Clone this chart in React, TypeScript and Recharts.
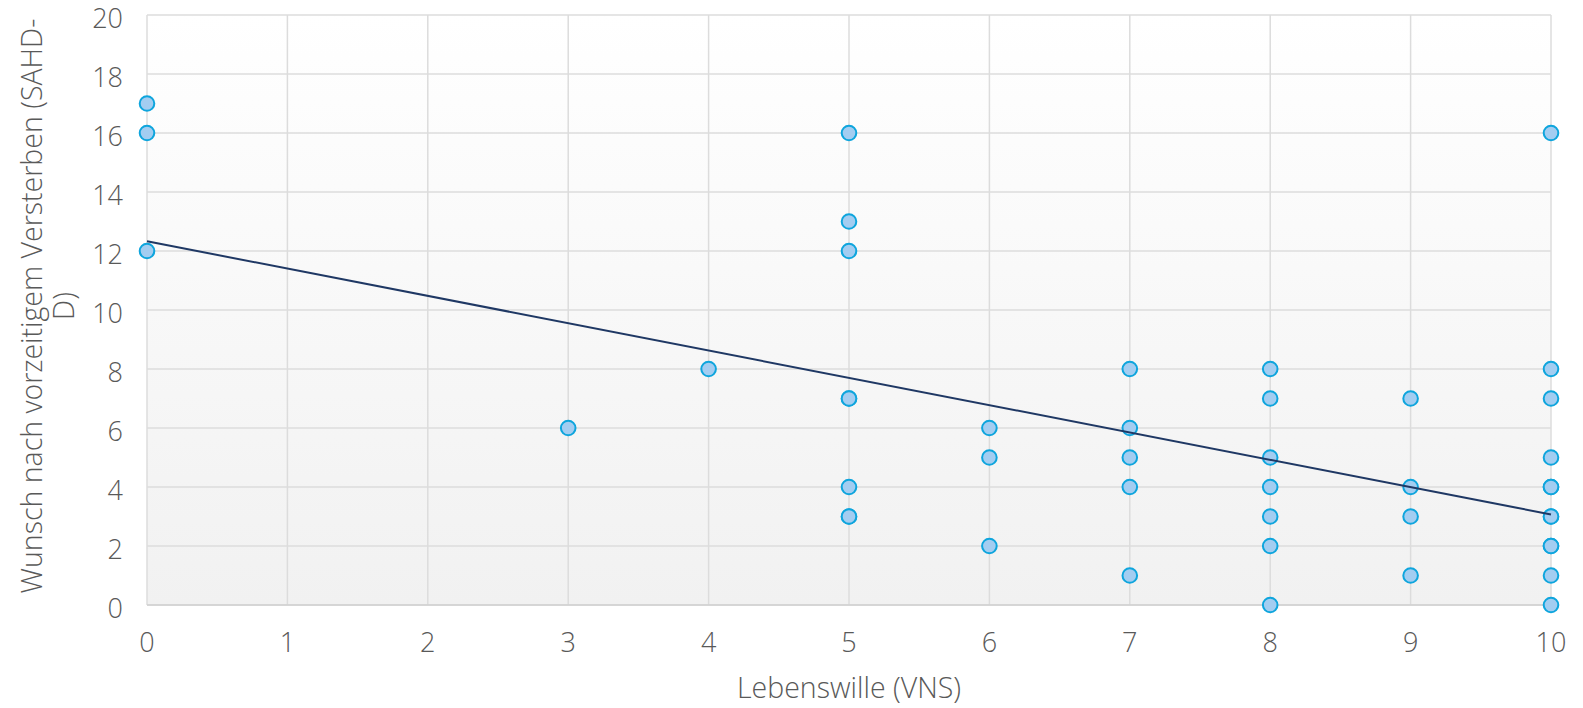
import React from 'react';
import {
  ScatterChart,
  Scatter,
  XAxis,
  YAxis,
  CartesianGrid,
} from 'recharts';

// Lebenswille (VNS) vs. Wunsch nach vorzeitigem Versterben (SAHD-D)
const vnsValues = [
  0, 0, 0,
  3,
  4,
  5, 5, 5, 5, 5, 5, 5, 5,
  6, 6, 6,
  7, 7, 7, 7, 7,
  8, 8, 8, 8, 8, 8, 8,
  9, 9, 9, 9,
  10, 10, 10, 10, 10, 10, 10, 10, 10, 10, 10, 10,
];
const sahdValues = [
  17, 16, 12,
  6,
  8,
  16, 13, 12, 7, 7, 4, 3, 3,
  6, 5, 2,
  8, 6, 5, 4, 1,
  8, 7, 5, 4, 3, 2, 0,
  7, 4, 3, 1,
  16, 8, 7, 5, 4, 4, 3, 3, 2, 2, 1, 0,
];

const trendX = [0, 10];
const trendY = [12.33, 3.07];

const xTicks = [0, 1, 2, 3, 4, 5, 6, 7, 8, 9, 10];
const yTicks = [0, 2, 4, 6, 8, 10, 12, 14, 16, 18, 20];

const xTitle = 'Lebenswille (VNS)';
const yTitleLines = ['Wunsch nach vorzeitigem Versterben (SAHD-', 'D)'];

const FONT = '"Open Sans", sans-serif';
const TEXT = '#595959';

const points = vnsValues.map((x, i) => ({ x, y: sahdValues[i] }));
const trend = trendX.map((x, i) => ({ x, y: trendY[i] }));

const Dot = (props: any) => {
  const { cx, cy } = props;
  if (cx == null || cy == null) return null;
  return <circle cx={cx} cy={cy} r={7.3} fill="#a3cdf1" stroke="#0ea5dd" strokeWidth={2} />;
};

const YTitle = (props: any) => {
  const vb = props.viewBox || {};
  const cy = (vb.y ?? 15) + (vb.height ?? 590) / 2 - 4;
  const xs = [31, 63];
  return (
    <g>
      {yTitleLines.map((line, i) => (
        <text
          key={i}
          x={xs[i]}
          y={cy}
          transform={`rotate(-90 ${xs[i]} ${cy})`}
          textAnchor="middle"
          dominantBaseline="central"
          fill={TEXT}
          fontFamily={FONT}
          fontWeight={300}
          fontSize={28.5}
        >
          {line}
        </text>
      ))}
    </g>
  );
};

export default function App() {
  return (
    <div style={{ position: 'absolute', left: 0, top: 0, width: 1583, height: 708, background: '#fff' }}>
      <svg width={0} height={0} style={{ position: 'absolute' }}>
        <defs>
          <linearGradient id="plotBg" x1="0" y1="0" x2="0" y2="1">
            <stop offset="0%" stopColor="#ffffff" />
            <stop offset="100%" stopColor="#f1f1f1" />
          </linearGradient>
        </defs>
      </svg>
      <ScatterChart width={1583} height={708} margin={{ top: 15, right: 32, left: 0, bottom: 0 }}>
        <CartesianGrid stroke="#dcdcdc" strokeWidth={1.5} fill="url(#plotBg)" fillOpacity={1} />
        <XAxis
          type="number"
          dataKey="x"
          domain={[0, 10]}
          ticks={xTicks}
          height={103}
          tickSize={0}
          tickMargin={28}
          axisLine={{ stroke: '#d0d0d0', strokeWidth: 1.5 }}
          tickLine={false}
          tick={{ fill: TEXT, fontSize: 27, fontFamily: FONT, fontWeight: 300 }}
          label={{
            value: xTitle,
            position: 'insideBottom',
            offset: 10,
            fill: TEXT,
            fontSize: 28.5,
            fontFamily: FONT,
            fontWeight: 300,
          }}
        />
        <YAxis
          type="number"
          dataKey="y"
          domain={[0, 20]}
          ticks={yTicks}
          width={147}
          tickSize={0}
          tickMargin={24}
          axisLine={false}
          tickLine={false}
          tick={{ fill: TEXT, fontSize: 27, fontFamily: FONT, fontWeight: 300, dy: 3 }}
          label={{ content: (p: any) => <YTitle {...p} /> }}
        />
        <Scatter data={points} shape={<Dot />} isAnimationActive={false} />
        <Scatter
          data={trend}
          line={{ stroke: '#1f3864', strokeWidth: 2 }}
          shape={() => null}
          isAnimationActive={false}
        />
      </ScatterChart>
    </div>
  );
}
